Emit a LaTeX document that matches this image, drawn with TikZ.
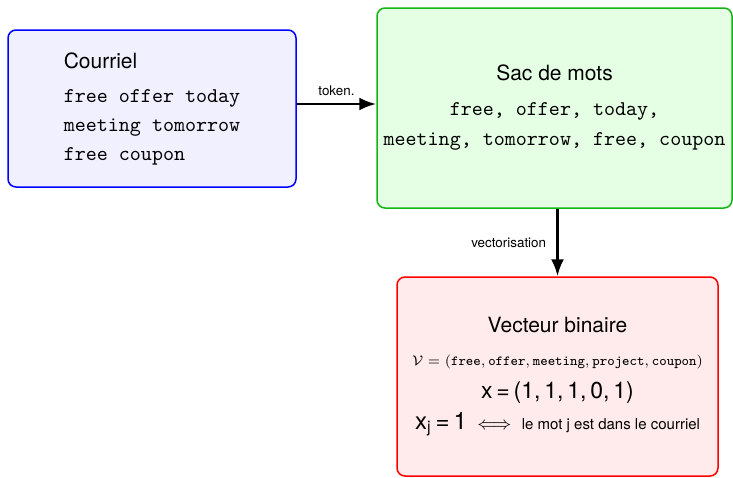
\documentclass[tikz,border=0pt]{standalone}
\usepackage{fontspec}
\setmainfont{TeX Gyre Heros}
\usetikzlibrary{arrows.meta}
\definecolor{boxgreen}{RGB}{20,180,20}
\tikzset{
  card/.style={draw, rounded corners=4pt, line width=0.75pt, inner sep=0pt},
  flow/.style={line width=1.4pt, -{Latex[length=8.5pt,width=6.5pt]}},
  steplabel/.style={font=\fontsize{6.7}{8}\selectfont, inner sep=1pt},
}
\newcommand{\txt}{\fontsize{10.5}{14.5}\selectfont}
\begin{document}
\begin{tikzpicture}[x=0.5pt, y=-0.5pt]
\useasboundingbox (0,0) rectangle (733,477);

% input e-mails
\node[card, draw=blue, fill=blue!6, minimum width=144pt, minimum height=78.5pt,
      align=left, font=\txt] (mail) at (152,108.5)
  {Courriel\\[2.5pt]
   \texttt{free offer today}\\
   \texttt{meeting tomorrow}\\
   \texttt{free coupon}};

% bag of words
\node[card, draw=boxgreen, fill=green!10, minimum width=177.5pt, minimum height=100pt,
      align=center, font=\txt] (bag) at (554.5,108)
  {Sac de mots\\[3pt]
   \texttt{free, offer, today,}\\[0.5pt]
   \texttt{meeting, tomorrow, free, coupon}};

% binary vector
\node[card, draw=red, fill=red!8, minimum width=160.5pt, minimum height=99.5pt,
      align=center, font=\txt] (vec) at (557.5,376.5)
  {Vecteur binaire\\[2pt]
   {\fontsize{7}{8}\selectfont $\mathcal{V}=(\texttt{free},\texttt{offer},\texttt{meeting},\texttt{project},\texttt{coupon})$}\\[2pt]
   {\fontsize{11.5}{14}\selectfont x\,=\,(1,\,1,\,1,\,0,\,1)}\\[1pt]
   {\fontsize{12}{14}\selectfont x\textsubscript{j}\,=\,1}\enspace{\fontsize{9}{10}\selectfont$\Longleftrightarrow$}\enspace
   {\fontsize{7.5}{9}\selectfont le mot j est dans le courriel}};

% connectors
\draw[flow] ([yshift=2.25pt]mail.east) -- node[steplabel, above=2.5pt] (tok) {token.} ([yshift=2pt]bag.west);
\draw[flow] (bag.south -| vec.north) -- node[steplabel, left=4pt] (vz) {vectorisation} (vec.north);
\end{tikzpicture}
\end{document}
